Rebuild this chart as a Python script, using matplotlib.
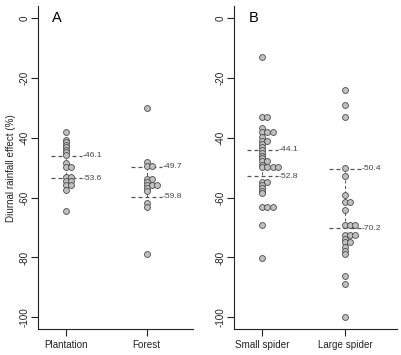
import matplotlib
matplotlib.use("Agg")
import matplotlib.pyplot as plt

plt.rcParams['font.family'] = ['Liberation Sans', 'DejaVu Sans']

# Panel A: habitat
habitat_groups = ['Plantation', 'Forest']
plantation = [-38.2, -40.6, -41.5, -42.3, -43.2, -44.0, -44.9, -45.7, -48.5, -49.7, -49.7,
              -53.1, -53.1, -54.6, -54.6, -55.9, -55.9, -57.6, -64.5]
forest = [-30.0, -48.1, -49.6, -49.6, -53.7, -53.7, -54.7, -55.7, -55.7, -55.7, -56.8,
          -57.9, -61.9, -63.1, -78.9]
habitat_lines = [(-46.1, -53.6), (-49.7, -59.8)]

# Panel B: spider size
spider_groups = ['Small spider', 'Large spider']
small_spider = [-13.0, -33.0, -33.0, -36.8, -38.0, -38.0, -38.0, -39.9, -41.0, -41.0, -42.0,
                -43.1, -44.2, -45.1, -46.0, -46.9, -47.9, -47.9, -49.0, -49.9, -49.9, -49.9,
                -49.9, -54.9, -54.9, -55.9, -56.8, -57.7, -58.5, -63.0, -63.0, -63.0, -69.1, -80.2]
large_spider = [-24.0, -29.0, -33.0, -50.1, -52.9, -59.0, -61.6, -61.6, -64.0, -69.1, -69.1,
                -69.1, -72.6, -72.6, -72.6, -73.8, -75.0, -75.0, -76.4, -77.7, -79.0, -86.2,
                -88.9, -100.0]
spider_lines = [(-44.1, -52.8), (-50.4, -70.2)]

yticks = [0, -20, -40, -60, -80, -100]

W, H = 402, 355
fig = plt.figure(figsize=(W / 100, H / 100), dpi=100)

line_col = '#555555'
dash = (0, (3.2, 2.4))


def stripchart(ax, groups, data, lines, xlim, letter):
    for i, (vals, (hi, lo)) in enumerate(zip(data, lines)):
        pos = i + 1
        # dashed reference lines under the points
        for v in (hi, lo):
            ax.plot([pos - 0.19, pos + 0.19], [v, v], color=line_col, lw=0.9, ls=dash, zorder=1)
            ax.text(pos + 0.2, v, '%.1f' % v, fontsize=6.1, color='#444444',
                    ha='left', va='center', zorder=3)
        ax.plot([pos, pos], [hi, lo], color=line_col, lw=0.7, ls=dash, zorder=1)
        # stack equal values sideways, like R's stripchart(method = "stack")
        seen = {}
        xs = []
        for v in vals:
            k = seen.get(v, 0)
            seen[v] = k + 1
            xs.append(pos + k * 0.062)
        ax.scatter(xs, vals, s=18, facecolor='#c0c0c0', edgecolor='#4a4a4a',
                   linewidths=0.6, zorder=2)
    ax.set_xlim(*xlim)
    ax.set_ylim(-104, 4)
    ax.set_xticks([1, 2])
    ax.set_xticklabels(groups, fontsize=7.1, color='#222222')
    ax.set_yticks(yticks)
    ax.set_yticklabels([str(t) for t in yticks], fontsize=7.1, rotation=90, va='center',
                       color='#222222')
    ax.spines['top'].set_visible(False)
    ax.spines['right'].set_visible(False)
    for s in ('left', 'bottom'):
        ax.spines[s].set_linewidth(0.8)
        ax.spines[s].set_color('#222222')
    ax.tick_params(axis='y', length=5, width=0.8, color='#222222', pad=1.5)
    ax.tick_params(axis='x', length=5, width=0.8, color='#222222', pad=2.5)
    ax.text(0.12, 0.985, letter, transform=ax.transAxes, fontsize=10.5,
            ha='center', va='top')


axA = fig.add_axes([38.3 / W, 1 - 329.3 / H, (193 - 38.3) / W, (329.3 - 6) / H])
stripchart(axA, habitat_groups, [plantation, forest], habitat_lines, (0.652, 2.576), 'A')

axB = fig.add_axes([234.3 / W, 1 - 329.3 / H, (397 - 234.3) / W, (329.3 - 6) / H])
stripchart(axB, spider_groups, [small_spider, large_spider], spider_lines, (0.661, 2.63), 'B')

fig.text(11 / W, 1 - 168 / H, 'Diurnal rainfall effect (%)', rotation=90,
         fontsize=7.1, ha='center', va='center', color='#222222')

fig.savefig('out.png', dpi=100)
